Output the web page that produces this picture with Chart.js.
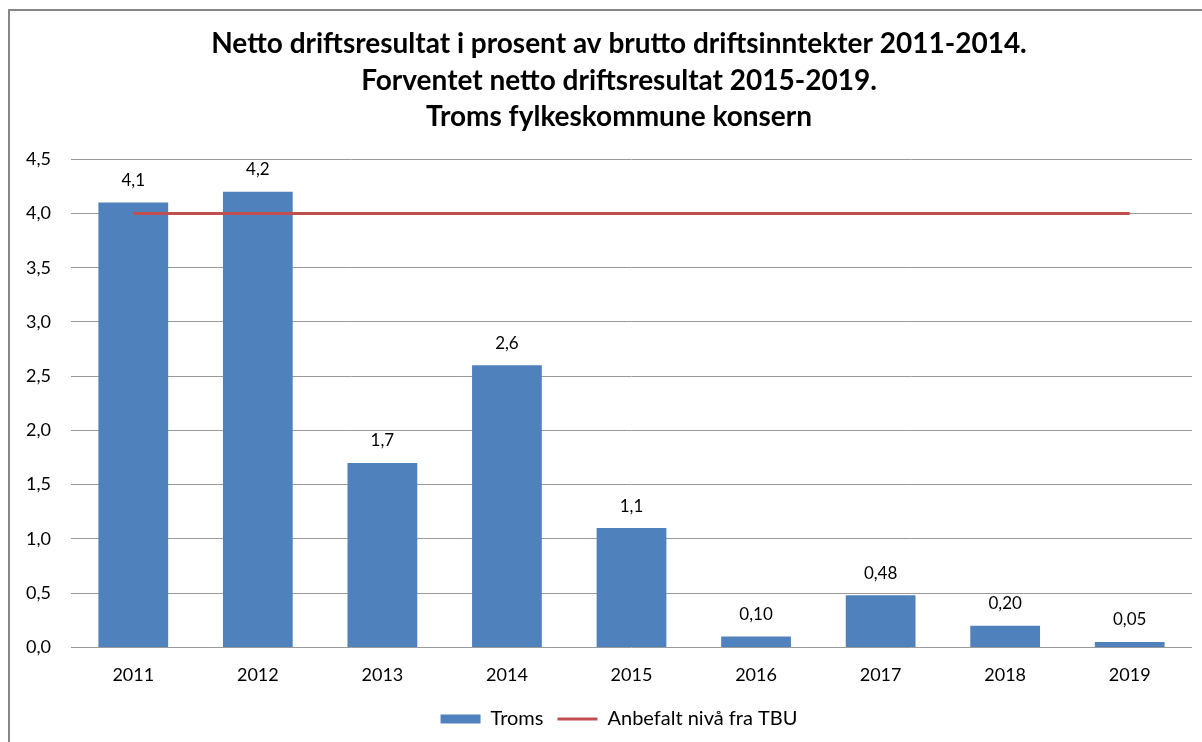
<!DOCTYPE html>
<html>
<head>
<meta charset="utf-8">
<script src="https://cdn.jsdelivr.net/npm/chart.js@4"></script>
<style>
  html, body { margin: 0; padding: 0; background: #fff; }
  #wrap { position: relative; width: 1202px; height: 742px; overflow: hidden; }
  #frame { position: absolute; left: 8px; top: 9px; width: 1300px; height: 800px;
           border-left: 2px solid #878787; border-top: 2px solid #878787; }
  canvas { position: absolute; left: 0; top: 0; }
</style>
</head>
<body>
<div id="wrap">
  <div id="frame"></div>
  <canvas id="chart" width="1202" height="742"></canvas>
</div>
<script>
// Netto driftsresultat, Troms fylkeskommune
const years = ['2011', '2012', '2013', '2014', '2015', '2016', '2017', '2018', '2019'];
const troms = [4.1, 4.2, 1.7, 2.6, 1.1, 0.10, 0.48, 0.20, 0.05];
const tbuLevel = [4.0, 4.0, 4.0, 4.0, 4.0, 4.0, 4.0, 4.0, 4.0];
const titleLines = [
  'Netto driftsresultat i prosent av brutto driftsinntekter 2011-2014.',
  'Forventet netto driftsresultat 2015-2019.',
  'Troms fylkeskommune konsern'
];

const FONT = "Lato, 'Open Sans', sans-serif";

function fmt(v, dec) {
  return v.toFixed(dec).replace('.', ',');
}

// tall over søylene
const barLabels = {
  id: 'barLabels',
  afterDatasetsDraw(chart) {
    const ctx = chart.ctx;
    const meta = chart.getDatasetMeta(0);
    ctx.save();
    ctx.font = '17px ' + FONT;
    ctx.fillStyle = '#000';
    ctx.textAlign = 'center';
    ctx.textBaseline = 'middle';
    meta.data.forEach((bar, i) => {
      const v = troms[i];
      ctx.fillText(fmt(v, v < 1 ? 2 : 1), bar.x, bar.y - 22);
    });
    ctx.restore();
  }
};

// y-aksen er smal (tittel/legende står litt til høyre), gi etikettene plass til venstre
const yLabelRoom = {
  id: 'yLabelRoom',
  afterLayout(chart) {
    chart.scales.y.left = 8;
  }
};

new Chart(document.getElementById('chart'), {
  type: 'bar',
  data: {
    labels: years,
    datasets: [{
      label: 'Troms',
      data: troms,
      backgroundColor: '#4F81BD',
      borderWidth: 0,
      pointStyle: 'rect',
      categoryPercentage: 1,
      barPercentage: 0.56,
      order: 2
    }, {
      type: 'line',
      label: 'Anbefalt nivå fra TBU',
      data: tbuLevel,
      borderColor: '#C0504D',
      backgroundColor: '#C0504D',
      borderWidth: 3,
      pointRadius: 0,
      pointHoverRadius: 0,
      pointStyle: 'line',
      pointBorderColor: '#C0504D',
      pointBorderWidth: 3,
      order: 1
    }]
  },
  options: {
    responsive: false,
    animation: false,
    // title and legend sit a bit right of centre in the original
    layout: { padding: { left: 46, right: 10, top: 10, bottom: 3 } },
    plugins: {
      title: {
        display: true,
        text: titleLines,
        color: '#000',
        font: { family: FONT, size: 28, weight: 'bold', lineHeight: 1.3 },
        padding: { top: 16, bottom: 24 }
      },
      legend: {
        position: 'bottom',
        labels: {
          usePointStyle: true,
          pointStyleWidth: 40,
          boxHeight: 9,
          padding: 14,
          color: '#000',
          font: { family: FONT, size: 20 },
          sort: (a, b) => a.datasetIndex - b.datasetIndex
        }
      },
      tooltip: { enabled: false }
    },
    scales: {
      x: {
        grid: { display: false },
        border: { display: false },
        ticks: { color: '#000', font: { family: FONT, size: 18 }, padding: 9 }
      },
      y: {
        min: 0,
        max: 4.5,
        afterFit: (scale) => { scale.width = 25; },
        ticks: {
          stepSize: 0.5,
          color: '#000',
          font: { family: FONT, size: 18 },
          padding: 20,
          callback: (v) => fmt(v, 1)
        },
        grid: { color: '#9a9a9a', drawTicks: false },
        border: { display: false }
      }
    }
  },
  plugins: [barLabels, yLabelRoom]
});
</script>
</body>
</html>
